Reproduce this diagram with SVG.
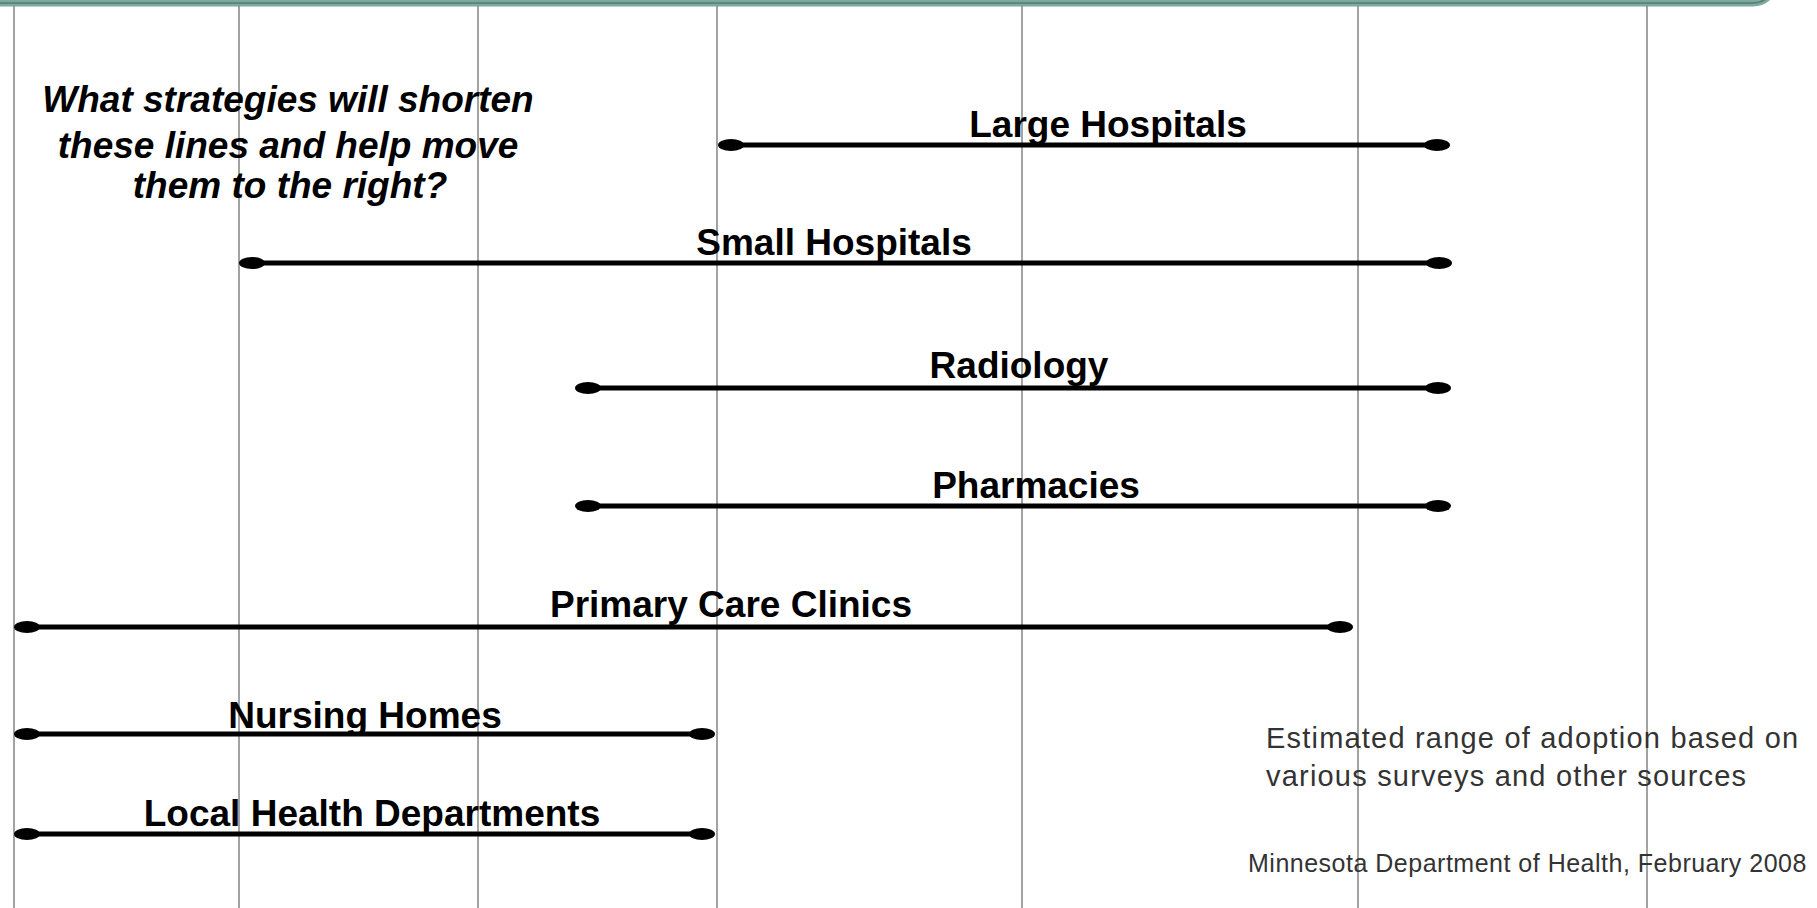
<svg xmlns="http://www.w3.org/2000/svg" width="1817" height="908" viewBox="0 0 1817 908">
<style>
.grid{stroke:#8c8c8c;stroke-width:1.6;fill:none}
.bar{stroke:#000;stroke-width:5;fill:none}
.dot{fill:#000}
.lbl{font-family:"Liberation Sans",Arial,sans-serif;font-weight:bold;font-size:37px;fill:#000;text-anchor:middle}
.q{font-family:"Liberation Sans",Arial,sans-serif;font-weight:bold;font-style:italic;font-size:37px;fill:#000;text-anchor:middle}
.note{font-family:"Liberation Sans",Arial,sans-serif;font-size:29px;letter-spacing:1.2px;fill:#333}
.src{font-family:"Liberation Sans",Arial,sans-serif;font-size:25px;letter-spacing:0.5px;fill:#333}
</style>
<rect width="1817" height="908" fill="#fff"/>
<g id="frame">
<rect x="-30" y="-80" width="1805" height="83" rx="22" fill="none" stroke="#7fa89f" stroke-width="7"/>
<rect x="-30" y="-80" width="1805" height="83" rx="22" fill="none" stroke="#4f7d74" stroke-width="1.5"/>
</g>
<g id="grid">
<line class="grid" x1="14" y1="5" x2="14" y2="908"/>
<line class="grid" x1="239" y1="5" x2="239" y2="908"/>
<line class="grid" x1="478" y1="5" x2="478" y2="908"/>
<line class="grid" x1="717" y1="5" x2="717" y2="908"/>
<line class="grid" x1="1022" y1="5" x2="1022" y2="908"/>
<line class="grid" x1="1358" y1="5" x2="1358" y2="908"/>
<line class="grid" x1="1647" y1="5" x2="1647" y2="908"/>
</g>
<g id="question">
<text class="q" x="288" y="112">What strategies will shorten</text>
<text class="q" x="288" y="158">these lines and help move</text>
<text class="q" x="290" y="198">them to the right?</text>
</g>
<g id="connectors">
<g id="large-hospitals">
<line class="bar" x1="731" y1="145" x2="1437" y2="145"/>
<ellipse class="dot" cx="731" cy="145" rx="13" ry="6"/>
<ellipse class="dot" cx="1437" cy="145" rx="13" ry="6"/>
<text class="lbl" x="1108" y="137">Large Hospitals</text>
</g>
<g id="small-hospitals">
<line class="bar" x1="252" y1="263" x2="1439" y2="263"/>
<ellipse class="dot" cx="252" cy="263" rx="13" ry="6"/>
<ellipse class="dot" cx="1439" cy="263" rx="13" ry="6"/>
<text class="lbl" x="834" y="255">Small Hospitals</text>
</g>
<g id="radiology">
<line class="bar" x1="588" y1="388" x2="1438" y2="388"/>
<ellipse class="dot" cx="588" cy="388" rx="13" ry="6"/>
<ellipse class="dot" cx="1438" cy="388" rx="13" ry="6"/>
<text class="lbl" x="1019" y="378">Radiology</text>
</g>
<g id="pharmacies">
<line class="bar" x1="588" y1="506" x2="1438" y2="506"/>
<ellipse class="dot" cx="588" cy="506" rx="13" ry="6"/>
<ellipse class="dot" cx="1438" cy="506" rx="13" ry="6"/>
<text class="lbl" x="1036" y="498">Pharmacies</text>
</g>
<g id="primary-care">
<line class="bar" x1="27" y1="627" x2="1340" y2="627"/>
<ellipse class="dot" cx="27" cy="627" rx="13" ry="6"/>
<ellipse class="dot" cx="1340" cy="627" rx="13" ry="6"/>
<text class="lbl" x="731" y="617">Primary Care Clinics</text>
</g>
<g id="nursing-homes">
<line class="bar" x1="27" y1="734" x2="702" y2="734"/>
<ellipse class="dot" cx="27" cy="734" rx="13" ry="6"/>
<ellipse class="dot" cx="702" cy="734" rx="13" ry="6"/>
<text class="lbl" x="365" y="728">Nursing Homes</text>
</g>
<g id="local-health">
<line class="bar" x1="27" y1="834" x2="702" y2="834"/>
<ellipse class="dot" cx="27" cy="834" rx="13" ry="6"/>
<ellipse class="dot" cx="702" cy="834" rx="13" ry="6"/>
<text class="lbl" x="372" y="826">Local Health Departments</text>
</g>
</g>
<g id="notes">
<text class="note" x="1266" y="748">Estimated range of adoption based on</text>
<text class="note" x="1266" y="786">various surveys and other sources</text>
<text class="src" x="1248" y="872">Minnesota Department of Health, February 2008</text>
</g>
</svg>
